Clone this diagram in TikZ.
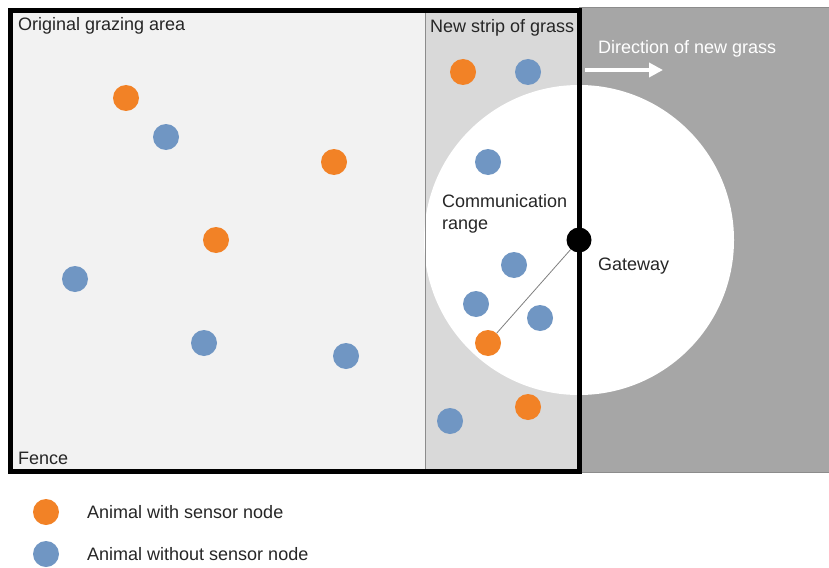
\documentclass[tikz,border=0pt]{standalone}
\usepackage{fontspec}
\setmainfont{Liberation Sans}
\usetikzlibrary{arrows.meta}
\definecolor{oldgrass}{HTML}{F2F2F2}
\definecolor{stripgrass}{HTML}{D9D9D9}
\definecolor{newgrass}{HTML}{A6A6A6}
\definecolor{edgegray}{HTML}{8C8C8C}
\definecolor{sensor}{HTML}{F28226}
\definecolor{plain}{HTML}{7096C3}
\definecolor{ink}{HTML}{262626}
\tikzset{
  animal/.style={circle, inner sep=0pt, minimum size=26pt},
  withsensor/.style={animal, fill=sensor},
  nosensor/.style={animal, fill=plain},
  lbl/.style={text=ink, font=\fontsize{18}{22}\selectfont, inner sep=0pt},
}
\begin{document}
\begin{tikzpicture}[x=1pt, y=-1pt]
\useasboundingbox (0,0) rectangle (829,567);
% grass areas
\fill[newgrass] (579,8) rectangle (829,472);
\draw[edgegray, line width=1pt] (579,8) -- (829,8);
\draw[edgegray, line width=1pt] (579,472) -- (829,472);
\fill[oldgrass] (11,11) rectangle (425,471);
\fill[stripgrass] (425,11) rectangle (579,471);
% communication range
\fill[white] (579,240) circle (155);
\draw[edgegray, line width=1pt] (425,11) -- (425,471);
% fence
\draw[black, line width=5pt] (10.5,10.5) rectangle (579,471);
% direction arrow
\draw[white, line width=4pt, -{Triangle[length=14pt,width=14pt]}] (585,70) -- (663,70);
% labels
\node[lbl, anchor=west] (t1) at (18,26) {Original grazing area};
\node[lbl, anchor=west] (t2) at (430,28) {New strip of grass};
\node[lbl, anchor=west, text=white] (t3) at (598,49) {Direction of new grass};
\node[lbl, anchor=north west, align=left] (t4) at (442,194) {Communication\\range};
\node[lbl, anchor=west] (t5) at (598,266) {Gateway};
\node[lbl, anchor=west] (t6) at (18,458) {Fence};
% animals
\node[withsensor] (o1) at (126,98) {};
\node[withsensor] (o2) at (334,162) {};
\node[withsensor] (o3) at (216,240) {};
\node[withsensor] (o4) at (463,72) {};
\node[withsensor] (o5) at (488,343) {};
\node[withsensor] (o6) at (528,407) {};
\node[nosensor] (b1) at (166,137) {};
\node[nosensor] (b2) at (75,279) {};
\node[nosensor] (b3) at (204,343) {};
\node[nosensor] (b4) at (346,356) {};
\node[nosensor] (b5) at (528,72) {};
\node[nosensor] (b6) at (488,162) {};
\node[nosensor] (b7) at (514,265) {};
\node[nosensor] (b8) at (476,304) {};
\node[nosensor] (b9) at (540,318) {};
\node[nosensor] (b10) at (450,421) {};
% gateway and link
\node[circle, fill=black, inner sep=0pt, minimum size=25pt] (gw) at (579,240) {};
\draw[gray, line width=0.8pt] (gw) -- (o5);
% legend
\node[withsensor] (k1) at (46,512) {};
\node[nosensor] (k2) at (46,554) {};
\node[lbl, anchor=west] (k1t) at (87,512) {Animal with sensor node};
\node[lbl, anchor=west] (k2t) at (87,554) {Animal without sensor node};
\end{tikzpicture}
\end{document}
